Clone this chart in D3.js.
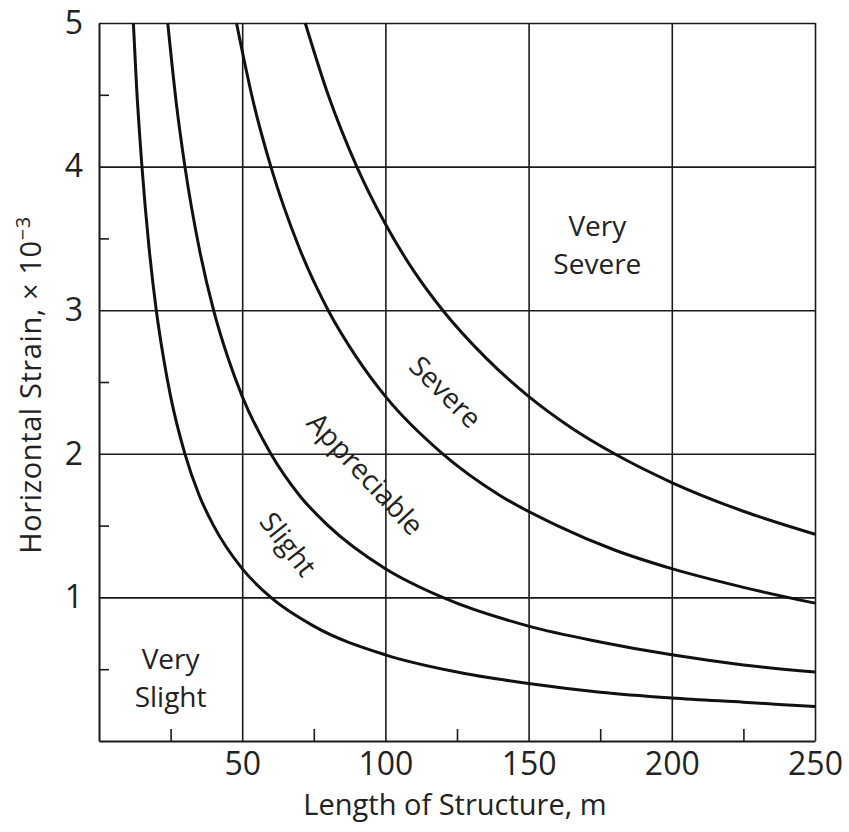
<!DOCTYPE html>
<html>
<head>
<meta charset="utf-8">
<script src="https://cdn.jsdelivr.net/npm/d3@7"></script>
<style>
  body { margin: 0; background: #fff; }
  text { font-family: "Open Sans", "DejaVu Sans", sans-serif; fill: #222; }
</style>
</head>
<body>
<div id="chart"></div>
<script>
// Tick values
const xMajorTicks = [50, 100, 150, 200, 250]
const xMinorTicks = [25, 75, 125, 175, 225]
const yMajorTicks = [1, 2, 3, 4, 5]
const yMinorTicks = [0.5, 1.5, 2.5, 3.5, 4.5]

// Damage boundary curves (length m, strain x10^-3)
const slightLength = [12, 13, 15, 17.5, 20, 22.5, 25, 30, 35, 40, 50, 60, 75, 100, 125, 150, 175, 200, 225, 250]
const slightStrain = [5.0, 4.6, 4.0, 3.43, 3.0, 2.67, 2.4, 2.0, 1.71, 1.5, 1.2, 1.0, 0.8, 0.6, 0.48, 0.4, 0.34, 0.3, 0.27, 0.24]

const appreciableLength = [24, 27, 30, 35, 40, 45, 50, 60, 70, 80, 100, 120, 150, 175, 200, 225, 250]
const appreciableStrain = [5.0, 4.44, 4.0, 3.43, 3.0, 2.67, 2.4, 2.0, 1.71, 1.5, 1.2, 1.0, 0.8, 0.69, 0.6, 0.53, 0.48]

const severeLength = [48, 54, 60, 70, 80, 90, 100, 120, 140, 160, 180, 200, 225, 250]
const severeStrain = [5.0, 4.44, 4.0, 3.43, 3.0, 2.67, 2.4, 2.0, 1.71, 1.5, 1.33, 1.2, 1.07, 0.96]

const veryLength = [72, 80, 90, 100, 110, 120, 135, 150, 165, 180, 200, 225, 250]
const veryStrain = [5.0, 4.5, 4.0, 3.6, 3.27, 3.0, 2.67, 2.4, 2.18, 2.0, 1.8, 1.6, 1.44]

const curves = [
  slightLength.map((d, i) => [d, slightStrain[i]]),
  appreciableLength.map((d, i) => [d, appreciableStrain[i]]),
  severeLength.map((d, i) => [d, severeStrain[i]]),
  veryLength.map((d, i) => [d, veryStrain[i]])
]

const W = 849, H = 832
const margin = { top: 23, right: 34, bottom: 91, left: 99 }
const width = W - margin.left - margin.right
const height = H - margin.top - margin.bottom

const svg = d3.select("#chart").append("svg")
  .attr("width", W)
  .attr("height", H)

const g = svg.append("g")
  .attr("transform", `translate(${margin.left},${margin.top})`)

const x = d3.scaleLinear().domain([0, 250]).range([0, width])
const y = d3.scaleLinear().domain([0, 5]).range([height, 0])

// Vertical grid
g.append("g")
  .attr("transform", `translate(0,${height})`)
  .call(d3.axisBottom(x).tickValues(xMajorTicks).tickSize(-height).tickFormat(""))
  .call(a => a.select(".domain").remove())
  .selectAll("line").attr("stroke", "#1a1a1a").attr("stroke-width", 1.6)

// Horizontal grid
g.append("g")
  .call(d3.axisLeft(y).tickValues(yMajorTicks).tickSize(-width).tickFormat(""))
  .call(a => a.select(".domain").remove())
  .selectAll("line").attr("stroke", "#1a1a1a").attr("stroke-width", 1.6)

// Minor ticks inside the frame
g.append("g")
  .attr("transform", `translate(0,${height})`)
  .call(d3.axisBottom(x).tickValues(xMinorTicks).tickSize(-12).tickFormat(""))
  .call(a => a.select(".domain").remove())
  .selectAll("line").attr("stroke", "#1a1a1a").attr("stroke-width", 1.6)

g.append("g")
  .call(d3.axisLeft(y).tickValues(yMinorTicks).tickSize(-10).tickFormat(""))
  .call(a => a.select(".domain").remove())
  .selectAll("line").attr("stroke", "#1a1a1a").attr("stroke-width", 1.6)

// Tick labels
const xAxis = g.append("g")
  .attr("transform", `translate(0,${height})`)
  .call(d3.axisBottom(x).tickValues(xMajorTicks).tickSize(0).tickPadding(11).tickFormat(d3.format("d")))
xAxis.select(".domain").attr("stroke", "#1a1a1a").attr("stroke-width", 2)
xAxis.selectAll("text").attr("font-size", 32).attr("font-family", null).attr("fill", "#222")

const yAxis = g.append("g")
  .call(d3.axisLeft(y).tickValues(yMajorTicks).tickSize(0).tickPadding(16).tickFormat(d3.format("d")))
yAxis.select(".domain").attr("stroke", "#1a1a1a").attr("stroke-width", 2)
yAxis.selectAll("text").attr("font-size", 32).attr("font-family", null).attr("fill", "#222")

// Curves
const line = d3.line()
  .x(d => x(d[0]))
  .y(d => y(d[1]))
  .curve(d3.curveMonotoneX)

g.selectAll(".curve")
  .data(curves)
  .enter()
  .append("path")
  .attr("class", "curve")
  .attr("d", line)
  .attr("fill", "none")
  .attr("stroke", "#111")
  .attr("stroke-width", 3)

// Zone labels
const flatLabels = [
  { lines: ["Very", "Severe"], x: 174, y: 3.52 },
  { lines: ["Very", "Slight"], x: 25, y: 0.5 }
]
flatLabels.forEach(l => {
  const t = g.append("text")
    .attr("text-anchor", "middle")
    .attr("font-size", 28)
  l.lines.forEach((s, i) => {
    t.append("tspan")
      .attr("x", x(l.x))
      .attr("y", y(l.y) + i * 38)
      .text(s)
  })
})

const slantLabels = [
  { text: "Severe", x: 121, y: 2.43, angle: 45 },
  { text: "Appreciable", x: 93, y: 1.86, angle: 47 },
  { text: "Slight", x: 66, y: 1.37, angle: 52 }
]
slantLabels.forEach(l => {
  g.append("text")
    .attr("transform", `translate(${x(l.x)},${y(l.y)}) rotate(${l.angle})`)
    .attr("text-anchor", "middle")
    .attr("dy", "0.35em")
    .attr("font-size", 28)
    .text(l.text)
})

// Axis titles
svg.append("text")
  .attr("x", margin.left + width / 2 - 2)
  .attr("y", 815)
  .attr("text-anchor", "middle")
  .attr("font-size", 29)
  .text("Length of Structure, m")

const yTitle = svg.append("text")
  .attr("transform", `translate(41,385) rotate(-90)`)
  .attr("text-anchor", "middle")
  .attr("font-size", 29)
  .attr("letter-spacing", 0.6)
yTitle.append("tspan").text("Horizontal Strain, × 10")
yTitle.append("tspan").attr("dy", -11).attr("font-size", 20).text("−3")
</script>
</body>
</html>
